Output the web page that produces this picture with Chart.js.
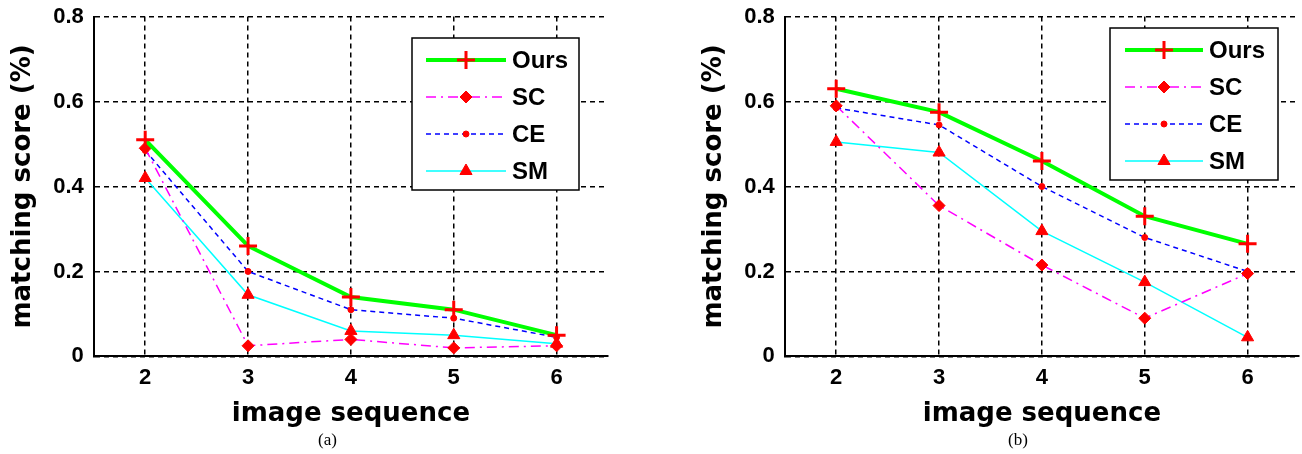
<!DOCTYPE html>
<html>
<head>
<meta charset="utf-8">
<script src="https://cdn.jsdelivr.net/npm/chart.js@4"></script>
<style>
  body { margin: 0; background: #fff; width: 1302px; height: 454px; overflow: hidden; position: relative; }
  canvas { position: absolute; top: 0; }
  #chartA { left: 0; }
  #chartB { left: 691px; }
  .cap { position: absolute; top: 430px; font: 17px "Liberation Serif", serif; color: #000; }
</style>
</head>
<body>
<canvas id="chartA" width="620" height="454"></canvas>
<canvas id="chartB" width="620" height="454"></canvas>
<div class="cap" style="left:318px">(a)</div>
<div class="cap" style="left:1008px">(b)</div>
<script>
const sequence = [2, 3, 4, 5, 6];
const yTicks = [0, 0.2, 0.4, 0.6, 0.8];
const seriesNames = ["Ours", "SC", "CE", "SM"];

// panel (a)
const oursA = [0.51, 0.26, 0.14, 0.11, 0.05];
const scA = [0.49, 0.025, 0.04, 0.02, 0.025];
const ceA = [0.485, 0.2, 0.11, 0.09, 0.045];
const smA = [0.42, 0.145, 0.06, 0.05, 0.03];

// panel (b)
const oursB = [0.63, 0.575, 0.46, 0.33, 0.265];
const scB = [0.59, 0.355, 0.215, 0.09, 0.195];
const ceB = [0.585, 0.545, 0.4, 0.28, 0.2];
const smB = [0.505, 0.48, 0.295, 0.175, 0.045];

const styles = [
  { color: "#00ff00", width: 4, dash: [], point: "cross", radius: 9, pw: 3 },
  { color: "#ff00ff", width: 1.5, dash: [10, 5, 2, 5], point: "rectRot", radius: 6, pw: 1 },
  { color: "#0000ff", width: 1.5, dash: [5, 4], point: "circle", radius: 3, pw: 1 },
  { color: "#00ffff", width: 1.5, dash: [], point: "triangle", radius: 7, pw: 1 },
];

const xTickFont = { family: "Liberation Sans", size: 22, weight: "bold", lineHeight: 1.2 };
// small lineHeight keeps the top label from pushing the plot down
const yTickFont = { family: "Liberation Sans", size: 22, weight: "bold", lineHeight: 0.6 };
const titleFont = { family: "DejaVu Sans", size: 26, weight: "bold", lineHeight: 1.2 };

// legend drawn inside the plot, like the matlab box
const boxLegend = {
  id: "boxLegend",
  afterDraw(chart, args, opts) {
    const ctx = chart.ctx;
    ctx.save();
    ctx.fillStyle = "#fff";
    ctx.fillRect(opts.left, opts.top, opts.width, opts.height);
    ctx.strokeStyle = "#000";
    ctx.lineWidth = 1.5;
    ctx.strokeRect(opts.left, opts.top, opts.width, opts.height);
    chart.data.datasets.forEach((ds, i) => {
      const y = opts.top + opts.first + i * opts.step;
      const x0 = opts.left + opts.lineStart;
      const x1 = x0 + opts.lineLen;
      ctx.beginPath();
      ctx.setLineDash(ds.borderDash);
      ctx.lineWidth = ds.borderWidth;
      ctx.strokeStyle = ds.borderColor;
      ctx.moveTo(x0, y);
      ctx.lineTo(x1, y);
      ctx.stroke();
      ctx.setLineDash([]);
      ctx.fillStyle = ds.pointBackgroundColor;
      ctx.strokeStyle = ds.pointBorderColor;
      ctx.lineWidth = ds.pointBorderWidth;
      Chart.helpers.drawPoint(ctx, {
        pointStyle: ds.pointStyle, radius: ds.pointRadius, rotation: 0, borderWidth: ds.pointBorderWidth,
      }, (x0 + x1) / 2, y);
      ctx.fillStyle = "#000";
      ctx.font = 'bold 24px "Liberation Sans"';
      ctx.textBaseline = "middle";
      ctx.fillText(ds.label, x1 + 6, y + 1);
    });
    ctx.restore();
  },
};

function makeChart(id, series, box) {
  new Chart(document.getElementById(id), {
    type: "line",
    data: {
      datasets: series.map((vals, i) => ({
        label: seriesNames[i],
        data: sequence.map((x, j) => ({ x: x, y: vals[j] })),
        borderColor: styles[i].color,
        borderWidth: styles[i].width,
        borderDash: styles[i].dash,
        pointStyle: styles[i].point,
        pointRadius: styles[i].radius,
        pointBorderWidth: styles[i].pw,
        pointBackgroundColor: "#ff0000",
        pointBorderColor: "#ff0000",
        tension: 0,
        fill: false,
      })),
    },
    options: {
      responsive: false,
      animation: false,
      layout: { padding: { left: 4, top: 3, right: 4, bottom: 19 } },
      plugins: {
        legend: { display: false },
        tooltip: { enabled: false },
        boxLegend: box,
      },
      scales: {
        x: {
          type: "linear",
          min: 1.5,
          max: 6.5,
          afterBuildTicks: (s) => { s.ticks = sequence.map((v) => ({ value: v })); },
          ticks: { font: xTickFont, color: "#000", padding: 8 },
          grid: { color: "#000", lineWidth: 1.5, drawTicks: false },
          border: { display: true, color: "#000", width: 2, dash: [5, 4] },
          title: { display: true, text: "image sequence", font: titleFont, color: "#000", padding: { top: 0, bottom: 5 } },
        },
        y: {
          min: 0,
          max: 0.8,
          afterBuildTicks: (s) => { s.ticks = yTicks.map((v) => ({ value: v })); },
          ticks: { font: yTickFont, color: "#000", padding: 10 },
          grid: { color: "#000", lineWidth: 1.5, drawTicks: false },
          border: { display: true, color: "#000", width: 2, dash: [5, 4] },
          title: { display: true, text: "matching score (%)", font: titleFont, color: "#000", padding: { top: 4, bottom: 4 } },
        },
      },
    },
    plugins: [boxLegend],
  });
}

makeChart("chartA", [oursA, scA, ceA, smA],
  { left: 412, top: 38, width: 167, height: 152, first: 22, step: 37, lineStart: 14, lineLen: 80 });
makeChart("chartB", [oursB, scB, ceB, smB],
  { left: 419, top: 28, width: 168, height: 152, first: 22, step: 37, lineStart: 15, lineLen: 78 });
</script>
</body>
</html>
